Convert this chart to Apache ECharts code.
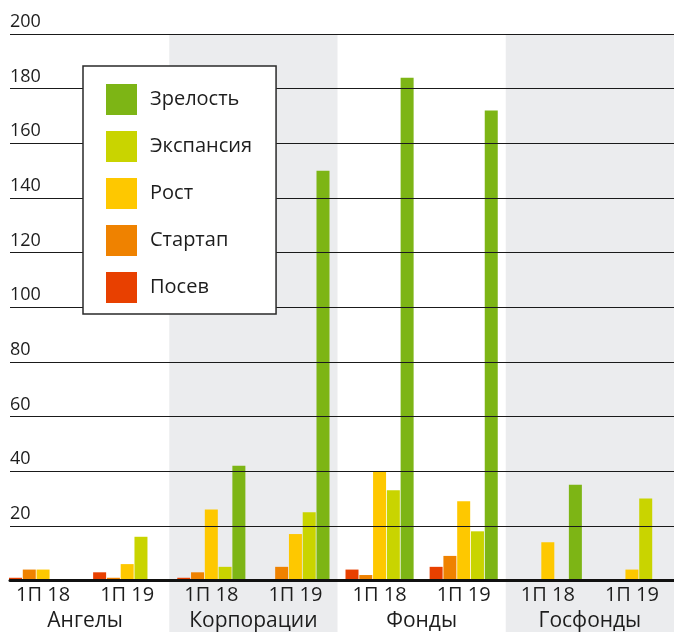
<!DOCTYPE html>
<html>
<head>
<meta charset="utf-8">
<script src="https://cdn.jsdelivr.net/npm/echarts@6/dist/echarts.min.js"></script>
<style>
  html, body { margin: 0; padding: 0; background: #ffffff; }
  #chart { width: 674px; height: 632px; }
</style>
</head>
<body>
<div id="chart"></div>
<script>
// Investor groups and the two half-year periods within each
var groups = ['Ангелы', 'Корпорации', 'Фонды', 'Госфонды'];
var periods = ['1П 18', '1П 19', '1П 18', '1П 19', '1П 18', '1П 19', '1П 18', '1П 19'];

// Deal volume by stage, one value per group/period
var seed      = [1, 3, 1, 0, 4, 5, 0, 0];
var startup   = [4, 1, 3, 5, 2, 9, 0, 0];
var growth    = [4, 6, 26, 17, 40, 29, 14, 4];
var expansion = [0, 16, 5, 25, 33, 18, 0, 30];
var maturity  = [0, 0, 42, 150, 184, 172, 35, 0];

var yTicks = [0, 20, 40, 60, 80, 100, 120, 140, 160, 180, 200];

var FONT = '"Open Sans", sans-serif';
var TEXT = '#1d1d1d';

var stages = [
  { name: 'Посев',     data: seed,      color: '#e84000' },
  { name: 'Стартап',   data: startup,   color: '#ef8200' },
  { name: 'Рост',      data: growth,    color: '#fec800' },
  { name: 'Экспансия', data: expansion, color: '#c9d400' },
  { name: 'Зрелость',  data: maturity,  color: '#7db515' }
];

var chart = echarts.init(document.getElementById('chart'), null, { renderer: 'canvas' });

var barSeries = stages.map(function (s) {
  return {
    name: s.name,
    type: 'bar',
    xAxisIndex: 1,
    yAxisIndex: 1,
    data: s.data,
    barWidth: 13,
    barGap: '6%',
    itemStyle: { color: s.color },
    z: 2
  };
});

chart.setOption({
  animation: false,
  textStyle: { fontFamily: FONT },
  grid: [
    // value scale: gridlines, tick labels, baseline
    { left: 10, right: 0, top: 34, bottom: 51.5 },
    // bars
    { left: 1, right: -3, top: 34, bottom: 51.5 },
    // alternating group bands and group names
    { left: 1, right: -3, top: 34, bottom: 0 }
  ],
  legend: {
    orient: 'vertical',
    left: 83,
    top: 66,
    padding: [18, 24, 11, 23],
    itemWidth: 31,
    itemHeight: 31,
    itemGap: 16,
    icon: 'rect',
    backgroundColor: '#ffffff',
    borderColor: '#2a2a2a',
    borderWidth: 1.5,
    data: ['Зрелость', 'Экспансия', 'Рост', 'Стартап', 'Посев'],
    textStyle: { fontFamily: FONT, fontSize: 20, color: TEXT, padding: [3, 0, 0, 8] },
    z: 10
  },
  xAxis: [
    {
      gridIndex: 0, type: 'category', data: [''],
      axisLine: { show: true, lineStyle: { color: '#111111', width: 3 } },
      axisTick: { show: false }, axisLabel: { show: false }, z: 4
    },
    {
      gridIndex: 1, type: 'category', data: periods,
      axisLine: { show: false }, axisTick: { show: false },
      axisLabel: { interval: 0, margin: 5, fontSize: 20, color: TEXT, fontFamily: FONT }
    },
    {
      gridIndex: 2, type: 'category', data: groups,
      axisLine: { show: false }, axisTick: { show: false },
      axisLabel: { inside: true, interval: 0, margin: 0, fontSize: 21, color: TEXT, fontFamily: FONT },
      splitArea: { show: true, interval: 0, areaStyle: { color: ['rgba(255,255,255,0)', '#ebecee'] } },
      z: 0
    }
  ],
  yAxis: [
    {
      gridIndex: 0, type: 'value', min: yTicks[0], max: yTicks[yTicks.length - 1], interval: yTicks[1] - yTicks[0],
      axisLine: { show: false }, axisTick: { show: false },
      axisLabel: {
        inside: true, margin: 0, align: 'left', verticalAlign: 'bottom',
        padding: [0, 0, 3, 0], showMinLabel: false,
        fontSize: 18, color: TEXT, fontFamily: FONT
      },
      splitLine: { show: true, lineStyle: { color: '#1a1a1a', width: 1 } },
      z: 3
    },
    {
      gridIndex: 1, type: 'value', min: yTicks[0], max: yTicks[yTicks.length - 1],
      show: false, splitLine: { show: false }
    },
    {
      gridIndex: 2, type: 'value', min: 0, max: 1,
      show: false, splitLine: { show: false }
    }
  ],
  series: barSeries
});
</script>
</body>
</html>
